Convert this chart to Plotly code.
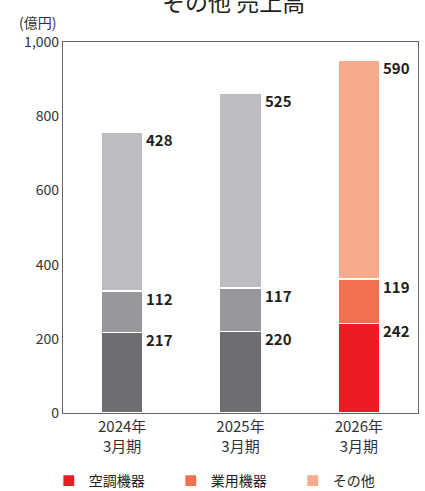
import plotly.graph_objects as go

# Fiscal years and stacked segment values (億円)
years = ["2024年<br>3月期", "2025年<br>3月期", "2026年<br>3月期"]
aircon = [217, 220, 242]      # 空調機器
commercial = [112, 117, 119]  # 業用機器
others = [428, 525, 590]      # その他

series_names = ["空調機器", "業用機器", "その他"]
actual_colors = ["#6d6e72", "#97989c", "#bcbdc1"]
plan_colors = ["#ed1c24", "#f07050", "#f8aa8c"]

FONT = "Noto Sans CJK JP"
segments = [aircon, commercial, others]

fig = go.Figure()
for i, vals in enumerate(segments):
    # results years in gray, no legend entry
    fig.add_trace(go.Bar(
        x=years[:2], y=vals[:2], marker=dict(color=actual_colors[i], line=dict(color="white", width=1.2)),
        showlegend=False, hoverinfo="skip", width=0.35,
    ))
    # forecast year in red shades, with legend
    fig.add_trace(go.Bar(
        x=years[2:], y=vals[2:], name=series_names[i],
        marker=dict(color=plan_colors[i], line=dict(color="white", width=1.2)),
        width=0.35,
    ))

# value labels to the right of each segment, aligned to its top
annotations = []
for j, yr in enumerate(years):
    base = 0
    for vals in segments:
        top = base + vals[j]
        annotations.append(dict(
            x=yr, y=top, xref="x", yref="y", text=f"<b>{vals[j]}</b>",
            showarrow=False, xanchor="left", yanchor="top", xshift=22, yshift=5,
            font=dict(family=FONT, size=15, color="#231f20"),
        ))
        base = top

# unit label and title
annotations.append(dict(
    x=-0.073, y=1.055, xref="paper", yref="paper", text="(億円)", showarrow=False,
    xanchor="center", yanchor="middle", font=dict(family=FONT, size=14, color="#333"),
))
annotations.append(dict(
    x=0.48, y=1.11, xref="paper", yref="paper", text="その他 売上高", showarrow=False,
    xanchor="center", yanchor="middle", font=dict(family=FONT, size=23, color="#231f20"),
))

fig.update_layout(
    barmode="stack",
    width=425, height=491,
    margin=dict(l=63, r=7, t=42, b=78, autoexpand=False),
    paper_bgcolor="white", plot_bgcolor="white",
    font=dict(family=FONT, color="#333"),
    annotations=annotations,
    legend=dict(orientation="h", x=-0.04, xanchor="left", y=-0.14, yanchor="top",
                entrywidth=77, entrywidthmode="pixels",
                font=dict(family=FONT, size=14, color="#231f20"), traceorder="normal"),
    xaxis=dict(showline=True, linecolor="#666", linewidth=1.2, mirror=True,
               tickfont=dict(family=FONT, size=15, color="#333"), ticks=""),
    yaxis=dict(range=[0, 1000], tickvals=[0, 200, 400, 600, 800, 1000],
               ticktext=["0", "200", "400", "600", "800", "1,000"],
               showgrid=False, zeroline=False, showline=True, linecolor="#666", linewidth=1.2,
               mirror=True, ticks="", tickfont=dict(family=FONT, size=14, color="#333")),
)

fig.write_html("out.html")
